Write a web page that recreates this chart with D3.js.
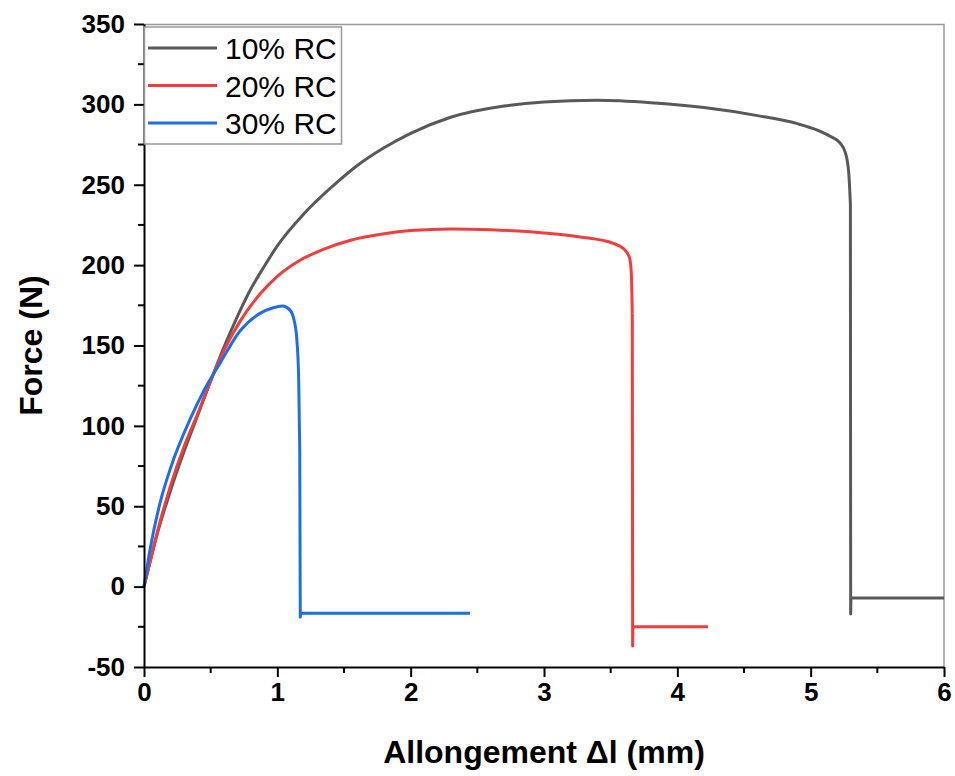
<!DOCTYPE html>
<html>
<head>
<meta charset="utf-8">
<script src="https://cdn.jsdelivr.net/npm/d3@7"></script>
<style>
    body { margin: 0; background: #fff; }
    text { font-family: "Liberation Sans", Arial, sans-serif; }
</style>
</head>
<body>
<div id="chart"></div>
<script>

// series names and colours
const seriesNames = ["10% RC", "20% RC", "30% RC"];
const seriesColours = ["#595959", "#f23d3d", "#1f6fe3"];

// 10% RC - smooth part (mm, N)
const x10 = [0, 0.1, 0.2, 0.3, 0.4, 0.5, 0.6, 0.7, 0.8, 0.9, 1.0, 1.2, 1.4, 1.6, 1.8, 2.0, 2.3, 2.7, 3.0, 3.4, 3.8, 4.2, 4.6, 4.9, 5.05, 5.15, 5.22, 5.26, 5.285, 5.298];
const f10 = [0, 33, 60, 84, 106, 128, 149, 168, 185, 199, 212, 232, 248, 262, 273, 282, 292, 299, 301.5, 302.5, 301, 298, 293, 288, 284, 280, 276, 270, 258, 238];
// 10% RC - rupture and tail
const tail10 = [[5.298, 238], [5.30, -17], [5.302, -7], [6.0, -7]];

// 20% RC
const x20 = [0, 0.05, 0.1, 0.2, 0.3, 0.4, 0.5, 0.6, 0.72, 0.87, 1.0, 1.17, 1.35, 1.55, 1.8, 2.0, 2.3, 2.6, 3.0, 3.27, 3.52, 3.6, 3.64, 3.655, 3.662];
const f20 = [0, 17, 34, 63, 87, 107, 128, 147, 165, 182, 193, 203, 210, 215.5, 219.5, 221.5, 222.5, 222, 220, 217.5, 213.5, 210, 205, 195, 170];
const tail20 = [[3.662, 170], [3.665, -37], [3.667, -25], [4.23, -25]];

// 30% RC
const x30 = [0, 0.045, 0.12, 0.2, 0.345, 0.45, 0.57, 0.72, 0.87, 0.97, 1.04, 1.095, 1.125, 1.145, 1.16, 1.168];
const f30 = [0, 23, 52, 74, 104, 122, 139, 159, 170, 173.5, 174.5, 172, 166, 155, 130, 85];
const tail30 = [[1.168, 85], [1.172, -19], [1.174, -16.5], [2.445, -16.5]];

// ticks
const xTicks = [0, 1, 2, 3, 4, 5, 6];
const yTicks = [-50, 0, 50, 100, 150, 200, 250, 300, 350];

const titleX = "Allongement \u0394l (mm)";
const titleY = "Force (N)";

const series = [
    { name: seriesNames[0], colour: seriesColours[0], curve: x10.map((x, i) => [x, f10[i]]), tail: tail10 },
    { name: seriesNames[1], colour: seriesColours[1], curve: x20.map((x, i) => [x, f20[i]]), tail: tail20 },
    { name: seriesNames[2], colour: seriesColours[2], curve: x30.map((x, i) => [x, f30[i]]), tail: tail30 }
];

const W = 955, H = 776;
const margin = { top: 24, right: 11, bottom: 109, left: 144 };
const width = W - margin.left - margin.right;
const height = H - margin.top - margin.bottom;

const svg = d3.select("#chart")
    .append("svg")
    .attr("width", W)
    .attr("height", H);

const g = svg.append("g")
    .attr("transform", "translate(" + margin.left + "," + margin.top + ")");

const x = d3.scaleLinear().domain([0, 6]).range([0, width]);
const y = d3.scaleLinear().domain([-50, 350]).range([height, 0]);

// frame top / right
g.append("path")
    .attr("d", "M0,0.5H" + width + "V" + height)
    .attr("fill", "none")
    .attr("stroke", "#999")
    .attr("stroke-width", 1.5);

// curves
const smooth = d3.line().x(d => x(d[0])).y(d => y(d[1])).curve(d3.curveMonotoneX);
const straight = d3.line().x(d => x(d[0])).y(d => y(d[1]));

series.forEach(s => {
    g.append("path")
        .attr("d", smooth(s.curve))
        .attr("fill", "none")
        .attr("stroke", s.colour)
        .attr("stroke-width", 3);
    g.append("path")
        .attr("d", straight(s.tail))
        .attr("fill", "none")
        .attr("stroke", s.colour)
        .attr("stroke-width", 3)
        .attr("stroke-linejoin", "round");
});

// minor ticks
const xMinor = d3.range(0.5, 6, 1);
const yMinor = d3.range(-25, 350, 50);

g.append("g")
    .attr("transform", "translate(0," + height + ")")
    .selectAll("line").data(xMinor).enter().append("line")
    .attr("x1", d => x(d)).attr("x2", d => x(d))
    .attr("y1", 0).attr("y2", 6)
    .attr("stroke", "#000").attr("stroke-width", 2);

g.append("g")
    .selectAll("line").data(yMinor).enter().append("line")
    .attr("x1", 0).attr("x2", -6)
    .attr("y1", d => y(d)).attr("y2", d => y(d))
    .attr("stroke", "#000").attr("stroke-width", 2);

// axes
const xAxis = g.append("g")
    .attr("transform", "translate(0," + height + ")")
    .call(d3.axisBottom(x).tickValues(xTicks).tickSize(10).tickSizeOuter(0).tickPadding(6).tickFormat(d => d));

const yAxis = g.append("g")
    .call(d3.axisLeft(y).tickValues(yTicks).tickSize(10).tickSizeOuter(0).tickPadding(9).tickFormat(d => d));

[xAxis, yAxis].forEach(a => {
    a.select(".domain").attr("stroke", "#000").attr("stroke-width", 2);
    a.selectAll(".tick line").attr("stroke", "#000").attr("stroke-width", 2);
    a.selectAll(".tick text")
        .attr("fill", "#000")
        .style("font-family", "'Liberation Sans', Arial, sans-serif")
        .style("font-size", "26px")
        .style("font-weight", "bold");
});

// X title
g.append("text")
    .attr("x", width / 2)
    .attr("y", height + 96)
    .attr("text-anchor", "middle")
    .style("font-size", "32px")
    .style("font-weight", "bold")
    .text(titleX);

// Y title
g.append("text")
    .attr("x", -height / 2)
    .attr("y", -102)
    .attr("text-anchor", "middle")
    .attr("transform", "rotate(-90)")
    .style("font-size", "32px")
    .style("font-weight", "bold")
    .text(titleY);

// legend
const legend = g.append("g").attr("transform", "translate(0,3)");
legend.append("rect")
    .attr("x", 0.5).attr("y", 0)
    .attr("width", 197).attr("height", 117)
    .attr("fill", "#fff")
    .attr("stroke", "#999")
    .attr("stroke-width", 1.5);

const items = legend.selectAll(".legend")
    .data(series).enter().append("g")
    .attr("class", "legend")
    .attr("transform", (d, i) => "translate(0," + (21 + i * 37.5) + ")");

items.append("line")
    .attr("x1", 4).attr("x2", 73)
    .attr("y1", 0).attr("y2", 0)
    .attr("stroke", d => d.colour)
    .attr("stroke-width", 3);

items.append("text")
    .attr("x", 81)
    .attr("y", 11)
    .style("font-size", "30px")
    .text(d => d.name);

</script>
</body>
</html>
